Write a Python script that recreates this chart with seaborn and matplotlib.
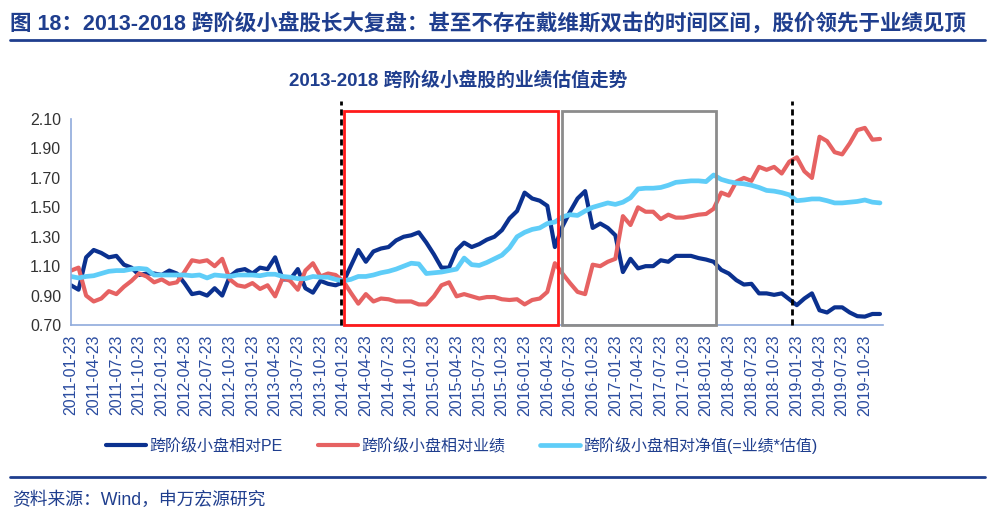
import matplotlib
matplotlib.use("Agg")
import matplotlib.pyplot as plt
from matplotlib.patches import Rectangle
import seaborn as sns
import pandas as pd
import numpy as np

# monthly observations, 2011-01-23 .. 2019-12-23
dates = pd.date_range("2011-01-23", periods=108, freq=pd.DateOffset(months=1)).strftime("%Y-%m-%d").tolist()

pe = [0.97, 0.94, 1.16, 1.21, 1.19, 1.16, 1.17, 1.11, 1.09, 1.04, 1.05, 1.05,
      1.04, 1.07, 1.05, 0.985, 0.91, 0.92, 0.90, 0.95, 0.90, 1.03, 1.07, 1.08,
      1.05, 1.09, 1.08, 1.16, 1.01, 1.01, 1.08, 0.95, 0.92, 1.00, 0.98, 0.97,
      0.99, 1.10, 1.21, 1.13, 1.20, 1.22, 1.23, 1.275, 1.30, 1.31, 1.33, 1.26,
      1.18, 1.09, 1.09, 1.21, 1.26, 1.23, 1.25, 1.28, 1.30, 1.345, 1.425, 1.475,
      1.60, 1.56, 1.545, 1.51, 1.23, 1.37, 1.47, 1.56, 1.61, 1.36, 1.39, 1.36,
      1.31, 1.06, 1.15, 1.085, 1.10, 1.10, 1.14, 1.13, 1.17, 1.17, 1.17, 1.155,
      1.145, 1.13, 1.075, 1.05, 1.005, 0.975, 0.98, 0.915, 0.915, 0.905, 0.915, 0.875,
      0.835, 0.88, 0.915, 0.80, 0.785, 0.82, 0.82, 0.785, 0.76, 0.757, 0.775, 0.775]

earnings = [1.07, 1.09, 0.90, 0.86, 0.88, 0.93, 0.91, 0.96, 1.00, 1.05, 1.03, 0.99,
            1.01, 0.98, 0.99, 1.06, 1.14, 1.13, 1.14, 1.10, 1.15, 1.01, 0.97, 0.96,
            0.985, 0.945, 0.97, 0.895, 1.02, 1.00, 0.94, 1.07, 1.12, 1.03, 1.05, 1.04,
            1.00, 0.92, 0.845, 0.91, 0.86, 0.88, 0.875, 0.86, 0.86, 0.86, 0.84, 0.84,
            0.895, 0.97, 0.99, 0.895, 0.91, 0.895, 0.88, 0.89, 0.89, 0.875, 0.87, 0.875,
            0.84, 0.87, 0.88, 0.925, 1.12, 1.05, 0.985, 0.925, 0.91, 1.11, 1.10, 1.13,
            1.15, 1.44, 1.38, 1.50, 1.47, 1.47, 1.42, 1.45, 1.43, 1.43, 1.44, 1.45,
            1.455, 1.49, 1.60, 1.58, 1.675, 1.70, 1.68, 1.775, 1.755, 1.775, 1.73, 1.81,
            1.84, 1.745, 1.70, 1.98, 1.95, 1.875, 1.86, 1.935, 2.025, 2.04, 1.96, 1.965]

net_value = [1.03, 1.02, 1.03, 1.035, 1.05, 1.065, 1.07, 1.07, 1.08, 1.085, 1.08, 1.04,
             1.04, 1.04, 1.04, 1.04, 1.035, 1.04, 1.02, 1.04, 1.035, 1.03, 1.04, 1.04,
             1.04, 1.035, 1.045, 1.045, 1.03, 1.025, 1.015, 1.015, 1.03, 1.025, 1.025, 1.01,
             1.00, 1.01, 1.03, 1.03, 1.04, 1.055, 1.065, 1.08, 1.10, 1.12, 1.115, 1.05,
             1.055, 1.06, 1.07, 1.08, 1.155, 1.11, 1.105, 1.125, 1.15, 1.175, 1.225, 1.30,
             1.33, 1.35, 1.36, 1.39, 1.40, 1.435, 1.45, 1.445, 1.475, 1.50, 1.515, 1.53,
             1.52, 1.535, 1.565, 1.625, 1.63, 1.63, 1.635, 1.65, 1.67, 1.675, 1.68, 1.68,
             1.675, 1.72, 1.69, 1.675, 1.665, 1.66, 1.65, 1.635, 1.615, 1.61, 1.60, 1.585,
             1.545, 1.55, 1.557, 1.557, 1.545, 1.53, 1.53, 1.535, 1.54, 1.55, 1.535, 1.53]

series_names = ["跨阶级小盘相对PE", "跨阶级小盘相对业绩", "跨阶级小盘相对净值(=业绩*估值)"]
colors = ["#0b318f", "#e66262", "#5fcdf8"]
y_ticks = [0.70, 0.90, 1.10, 1.30, 1.50, 1.70, 1.90, 2.10]

title = "图 18：2013-2018 跨阶级小盘股长大复盘：甚至不存在戴维斯双击的时间区间，股价领先于业绩见顶"
subtitle = "2013-2018 跨阶级小盘股的业绩估值走势"
source = "资料来源：Wind，申万宏源研究"

navy = "#1f3e8e"
spine_c = "#8faadc"

sns.set_style("white")
plt.rcParams["font.family"] = ["Liberation Sans", "Noto Sans CJK SC"]

fig = plt.figure(figsize=(10, 5.2), dpi=100)
ax = fig.add_axes([0.071, 0.375, 0.812, 0.396])

pos = np.arange(len(dates))
df = pd.DataFrame({"pos": pos, "pe": pe, "earn": earnings, "nv": net_value})
for col, name, c, lw in zip(["pe", "earn", "nv"], series_names, colors, [3.0, 3.0, 3.4]):
    sns.lineplot(data=df, x="pos", y=col, ax=ax, color=c, linewidth=lw, label=name)

ax.set_xlim(0, 107.4)
ax.set_ylim(0.70, 2.10)
ax.set_yticks(y_ticks)
ax.set_yticklabels([f"{v:.2f}" for v in y_ticks], fontsize=11.5, color="#333333")
ax.set_xticks(pos[::3])
ax.set_xticklabels(dates[::3], rotation=90, fontsize=11.5, color="#2a4ca0")
ax.set_xlabel("")
ax.set_ylabel("")
for s in ["top", "right"]:
    ax.spines[s].set_visible(False)
for s in ["left", "bottom"]:
    ax.spines[s].set_color(spine_c)
    ax.spines[s].set_linewidth(1.2)
ax.tick_params(axis="both", direction="out", length=4, width=1, color=spine_c, pad=3)

# highlighted periods
ax.add_patch(Rectangle((36.1, 0.70), 64.4 - 36.1, 1.455, fill=False,
                       edgecolor="#ff1a1a", linewidth=2, clip_on=False, zorder=5))
ax.add_patch(Rectangle((64.95, 0.70), 85.3 - 64.95, 1.455, fill=False,
                       edgecolor="#8c8c8c", linewidth=2, clip_on=False, zorder=5))
for xv in [35.7, 95.4]:
    ax.plot([xv, xv], [0.70, 2.22], color="black", linestyle=(0, (2.2, 1.4)),
            linewidth=2, clip_on=False, zorder=6)

ax.get_legend().remove()
handles, labels = ax.get_legend_handles_labels()
fig.legend(handles, labels, loc="center left", bbox_to_anchor=(0.092, 1 - 445 / 520),
           ncol=3, frameon=False, fontsize=11.5, handlelength=2.5, handletextpad=0.2,
           columnspacing=2.2, labelcolor=navy)

fig.text(0.010, 1 - 24 / 520, title, fontsize=15.5, fontweight="bold", color=navy,
         ha="left", va="center")
fig.add_artist(plt.Line2D([0.010, 0.985], [1 - 40 / 520] * 2, color=navy, linewidth=2))
fig.text(0.458, 1 - 80 / 520, subtitle, fontsize=13.5, fontweight="bold", color=navy,
         ha="center", va="center")
fig.add_artist(plt.Line2D([0.010, 0.985], [1 - 477 / 520] * 2, color=navy, linewidth=2))
fig.text(0.012, 1 - 500 / 520, source, fontsize=12.8, color=navy, ha="left", va="center")

fig.savefig("out.png", dpi=100)
